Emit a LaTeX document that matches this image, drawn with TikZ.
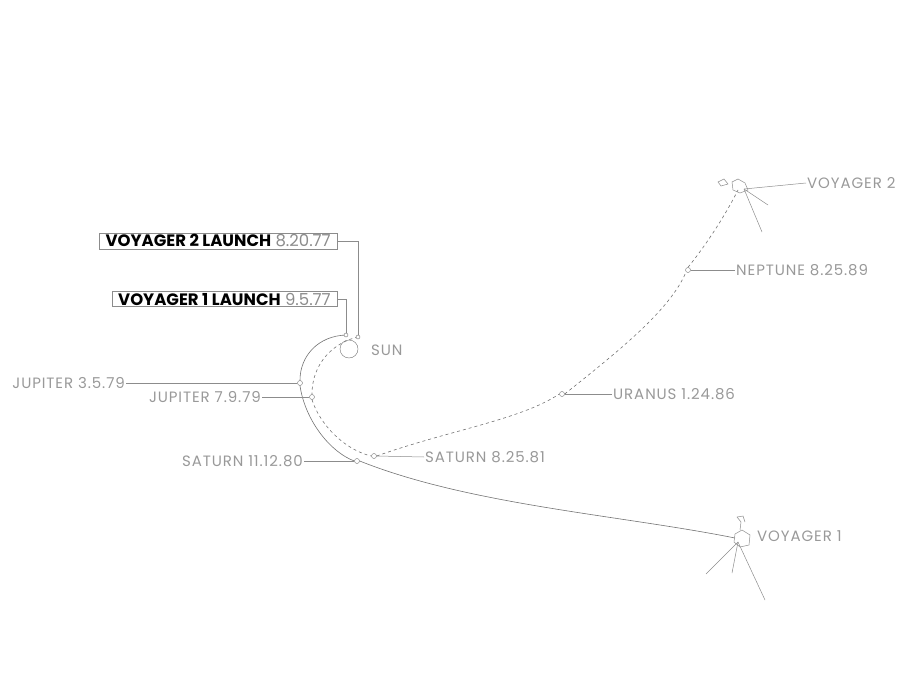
\documentclass[tikz,border=0pt]{standalone}
\usepackage{fontspec}
\setmainfont{Poppins}
\newfontfamily\spaced[LetterSpace=6]{Poppins}
\begin{document}
\begin{tikzpicture}[x=1pt,y=-1pt,
  traj/.style={draw=black!55,line width=0.6pt},
  trajd/.style={draw=black!55,line width=0.6pt,dash pattern=on 3pt off 3pt},
  lead/.style={draw=black!45,line width=0.5pt},
  dot/.style={circle,draw=black!55,fill=white,inner sep=0pt,minimum size=6pt},
  lbl/.style={font=\spaced\fontsize{15}{15}\selectfont,text=black!40,inner sep=1pt},
  boxl/.style={draw=black!45,line width=0.5pt,inner xsep=6pt,inner ysep=1.5pt,font=\fontsize{16.5}{16.5}\selectfont}]
\useasboundingbox (0,0) rectangle (907,698);
% Sun
\node[circle,draw=black!55,minimum size=18pt,inner sep=0pt] (sun) at (349,349) {};
\node[lbl,anchor=west] (sunl) at (370,350) {SUN};
% coordinates
\coordinate (v1s) at (346,335);
\coordinate (v2s) at (358,337);
\node[dot,minimum size=5pt] (j1) at (300,383) {};
\node[dot,minimum size=5pt] (j2) at (312,397) {};
\node[dot,minimum size=5pt] (s1) at (357,461) {};
\node[dot,minimum size=5pt] (s2) at (374,456) {};
\node[dot,minimum size=5pt] (u2) at (562,394) {};
\node[dot,minimum size=5pt] (n2) at (688,270) {};
\coordinate (v1e) at (735,538);
\coordinate (v2e) at (738,190);
% trajectories
\draw[traj] (v1s) .. controls (318,336) and (300,356) .. (j1.north)
  (j1.south) .. controls (305,420) and (330,452) .. (s1.west)
  (s1.east) .. controls (470,505) and (620,515) .. (v1e);
\draw[trajd] (v2s) .. controls (335,342) and (312,362) .. (j2.north)
  (j2.south) .. controls (320,425) and (345,450) .. (s2.west)
  (s2.east) .. controls (450,430) and (520,420) .. (u2.west)
  (u2.east) .. controls (620,350) and (670,310) .. (n2.south west)
  (n2.north) .. controls (710,240) and (728,210) .. (v2e);
% launch boxes
\node[boxl,anchor=east] (b2) at (337,241) {\textbf{VOYAGER 2 LAUNCH} {\color{black!45}8.20.77}};
\node[boxl,anchor=east] (b1) at (337,299) {\textbf{VOYAGER 1 LAUNCH} {\color{black!45}9.5.77}};
\draw[lead] (b2.east) -| (v2s);
\draw[lead] (b1.east) -| (v1s);
\node[dot,minimum size=4pt] at (v1s) {};
\node[dot,minimum size=4pt] at (v2s) {};
% labels
\node[lbl,anchor=east] (lj1) at (126,383) {JUPITER 3.5.79};
\node[lbl,anchor=east] (lj2) at (262,397) {JUPITER 7.9.79};
\node[lbl,anchor=east] (ls1) at (304,461) {SATURN 11.12.80};
\node[lbl,anchor=west] (ls2) at (424,457) {SATURN 8.25.81};
\node[lbl,anchor=west] (lu2) at (612,394) {URANUS 1.24.86};
\node[lbl,anchor=west] (ln2) at (735,270) {NEPTUNE 8.25.89};
\node[lbl,anchor=west] (lv2) at (806,183) {VOYAGER 2};
\node[lbl,anchor=west] (lv1) at (756,536) {VOYAGER 1};
\draw[lead] (lj1.east) -- (j1.west);
\draw[lead] (lj2.east) -- (j2.west);
\draw[lead] (ls1.east) -- (s1.west);
\draw[lead] (ls2.west) -- (s2.east);
\draw[lead] (lu2.west) -- (u2.east);
\draw[lead] (ln2.west) -- (n2.east);
% Voyager 2 craft
\draw[lead] (732,182) -- (738,179) -- (745,183) -- (748,190) -- (740,193) -- (733,190) -- cycle;
\draw[lead] (718,182) -- (724,179) -- (728,184) -- (721,186) -- cycle;
\coordinate (c2) at (744,189);
\draw[lead] (c2) -- (lv2.west);
\draw[lead] (c2) -- (768,205);
\draw[lead] (c2) -- (762,232);
% Voyager 1 craft
\draw[lead] (735,534) -- (742,530) -- (750,535) -- (749,545) -- (740,547) -- (734,542) -- cycle;
\draw[lead] (740,530) -- (741,522) -- (737,517) -- (743,516) -- (745,522);
\coordinate (c1) at (738,542);
\draw[lead] (c1) -- (706,574);
\draw[lead] (c1) -- (732,573);
\draw[lead] (c1) -- (765,600);
\end{tikzpicture}
\end{document}
